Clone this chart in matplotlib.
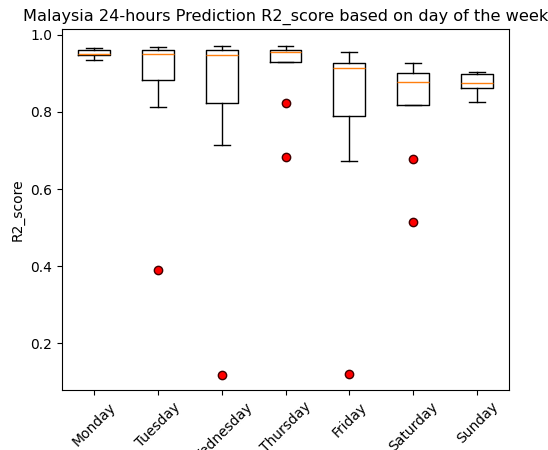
import matplotlib
matplotlib.use("Agg")
import matplotlib.pyplot as plt

days = ["Monday", "Tuesday", "Wednesday", "Thursday", "Friday", "Saturday", "Sunday"]

# Box statistics of R2 scores per weekday
q1 = [0.947, 0.884, 0.823, 0.929, 0.790, 0.818, 0.863]
med = [0.950, 0.951, 0.947, 0.955, 0.915, 0.878, 0.875]
q3 = [0.961, 0.961, 0.961, 0.961, 0.926, 0.902, 0.899]
whislo = [0.936, 0.812, 0.715, 0.929, 0.673, 0.818, 0.826]
whishi = [0.965, 0.968, 0.971, 0.971, 0.957, 0.926, 0.905]
fliers = [[], [0.390], [0.117], [0.823, 0.684], [0.119], [0.677, 0.514], []]

stats = []
for i, d in enumerate(days):
    stats.append(dict(label=d, q1=q1[i], med=med[i], q3=q3[i],
                      whislo=whislo[i], whishi=whishi[i], fliers=fliers[i]))

fig = plt.figure(figsize=(5.48, 4.5), dpi=100)
ax = fig.add_axes([0.113, 0.1333, 0.816, 0.8023])
ax.bxp(stats, showfliers=True,
       flierprops=dict(marker="o", markerfacecolor="red", markeredgecolor="#400000",
                       markersize=6))
ax.set_ylim(0.078, 1.0156)
ax.set_ylabel("R2_score")
ax.set_title("Malaysia 24-hours Prediction R2_score based on day of the week", fontsize=11.6)
plt.setp(ax.get_xticklabels(), rotation=45)
fig.savefig("out.png", dpi=100)
